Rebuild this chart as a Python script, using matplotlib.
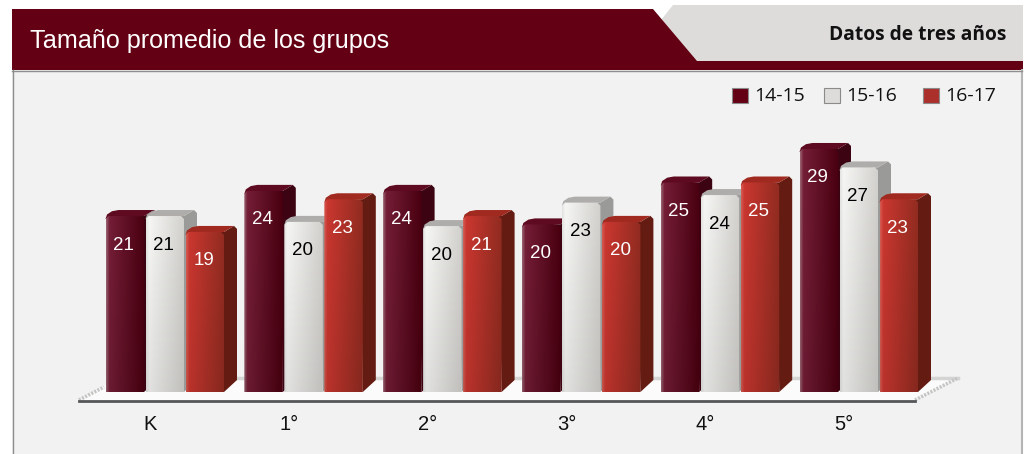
import numpy as np
import matplotlib
matplotlib.use('Agg')
import matplotlib.pyplot as plt
from matplotlib.colors import to_rgb
from matplotlib.patches import Polygon, Rectangle

# Values
grades = ['K', '1°', '2°', '3°', '4°', '5°']
years = ['14-15', '15-16', '16-17']
# printed labels
y1415 = [21, 24, 24, 20, 25, 29]
y1516 = [21, 20, 20, 23, 24, 27]
y1617 = [19, 23, 21, 20, 25, 23]
labels = [y1415, y1516, y1617]
# bar heights as measured, the labels are rounded
h1415 = [21.0, 24.0, 24.0, 20.0, 25.0, 29.0]
h1516 = [21.0, 20.3, 19.8, 22.6, 23.5, 26.8]
h1617 = [19.1, 23.0, 21.0, 20.3, 25.0, 23.0]
heights = [h1415, h1516, h1617]

# edge, front left, front right, top, side, label colour
styles = [
    ('#8f5a68', '#6e1c34', '#45000f', '#5e0a20', '#3c0412', 'white'),
    ('#d8d8d6', '#e8e8e6', '#c6c5c2', '#aeadab', '#9a9a98', 'black'),
    ('#c9554c', '#bf342d', '#89291f', '#a12a20', '#641c12', 'white'),
]
legend_colors = ['#640014', '#dddcda', '#ab302c']
legend_x = [732, 824, 923]

W, H = 1024, 454
PX_X = 138.8   # pixels per category
PX_Y = 8.38    # pixels per student
X0, Y0 = 150, 392
PITCH = 40 / PX_X
BAR_W = 38.5 / PX_X
BAR_LEFT = -44.5 / PX_X
DX = 13 / PX_X
TOP_DY = 6 / PX_Y
BASE_DY = 12 / PX_Y
RX = 3 / PX_X
RY = 3 / PX_Y

fig = plt.figure(figsize=(W / 100, H / 100), dpi=100, facecolor='white')

# Panel and header, in pixel coordinates
bg = fig.add_axes([0, 0, 1, 1])
bg.set_xlim(0, W)
bg.set_ylim(H, 0)
bg.axis('off')
bg.add_patch(Rectangle((12, 70), 1010, 384, fc='#f2f2f2', ec='none'))
bg.plot([12.5, 12.5], [70, H], color='#8e8e8e', lw=1)
bg.plot([1022, 1022], [70, H], color='#b5b5b5', lw=1.5)
bg.plot([12, 1022], [70.5, 70.5], color='#8e8e8e', lw=1)
bg.add_patch(Polygon([(673, 5), (1023, 5), (1023, 62), (697, 62), (661, 20)], fc='#dddcda', ec='none'))
bg.add_patch(Polygon([(12, 9), (653, 9), (697, 61), (1023, 61), (1023, 70), (12, 70)], fc='#640014', ec='none'))
bg.text(30, 41, 'Tamaño promedio de los grupos', color='white', fontsize=18.1,
        family='Liberation Sans', va='center', ha='left')
bg.text(1006, 35, 'Datos de tres años', color='#111111', fontsize=13.8, fontweight='bold',
        family='Open Sans', va='center', ha='right')

# Floor
bg.add_patch(Polygon([(79, 400), (915, 400), (958, 378), (118, 378)], fc='#fbfbfb', ec='none'))
bg.plot([118, 958], [378, 378], color='#d4d4d2', lw=2.5)
bg.plot([79, 104], [400, 387], color='#c4c4c2', lw=2.5, ls=(0, (0.6, 0.4)))
bg.plot([915, 958], [400, 378], color='#c4c4c2', lw=2.5, ls=(0, (0.6, 0.4)))
bg.plot([79, 915], [400.5, 400.5], color='#55585a', lw=2)

# Legend
for name, col, lx in zip(years, legend_colors, legend_x):
    bg.add_patch(Rectangle((lx, 88), 16, 15, fc=col, ec='#8a8a8a', lw=0.8))
    bg.text(lx + 22, 96, name, fontsize=14, family='Open Sans', color='#111111', va='center', ha='left')

# Chart axes share the figure area, scaled so values map onto the bars
ax = fig.add_axes([0, 0, 1, 1], facecolor='none')
ax.axis('off')
xlim = (-X0 / PX_X, (W - X0) / PX_X)
ylim = (-(H - Y0) / PX_Y, Y0 / PX_Y)

positions = np.arange(len(grades))
shade = np.linspace(1.06, 0.97, 64)[:, None, None]

for s, (vals, txts, st) in enumerate(zip(heights, labels, styles)):
    edge_c, left_c, right_c = [np.array(to_rgb(c)) for c in st[:3]]
    t = np.linspace(0, 1, 40)
    row = np.array([np.interp(t, [0, 0.08, 1], [edge_c[i], left_c[i], right_c[i]]) for i in range(3)]).T
    for p, v, txt in zip(positions, vals, txts):
        x0 = p + BAR_LEFT + s * PITCH
        x1 = x0 + BAR_W
        # side face
        ax.add_patch(Polygon([(x1 - RX, v - RY), (x1 - RX, v), (x1, v), (x1 + DX - RX, v + TOP_DY),
                              (x1 + DX, v + TOP_DY - RY), (x1 + DX, BASE_DY), (x1, 0)],
                             fc=st[4], ec='none', zorder=2 + s))
        # top face, rounded at the back left
        ax.add_patch(Polygon([(x0, v - RY), (x0 + RX / 2, v + TOP_DY * 0.25), (x0 + DX * 0.5, v + TOP_DY * 0.8),
                              (x0 + DX, v + TOP_DY), (x1 + DX - RX, v + TOP_DY), (x1, v)],
                             fc=st[3], ec='none', zorder=2 + s))
        # front face with a horizontal gradient
        img = np.clip(row[None, :, :] * shade, 0, 1)
        im = ax.imshow(img, extent=(x0, x1, 0, v), origin='upper',
                       aspect='auto', zorder=2 + s, interpolation='bilinear')
        clip = Polygon([(x0, 0), (x0, v - RY), (x0 + RX, v), (x1 - RX, v), (x1, v - RY), (x1, 0)],
                       transform=ax.transData)
        im.set_clip_path(clip)
        ax.annotate(str(txt), (x0 + BAR_W / 2, v), xytext=(-1 * 0.72, -29 * 0.72), textcoords='offset points',
                    ha='center', va='center', color=st[5], fontsize=13.5, family='Liberation Sans', zorder=10)

for p, g in zip(positions, grades):
    ax.annotate(g, (p, 0), xytext=(0, -32 * 0.72), textcoords='offset points', ha='center', va='center',
                fontsize=14.5, family='Liberation Sans', color='#111111')

ax.set_xlim(*xlim)
ax.set_ylim(*ylim)

fig.savefig('out.png', dpi=100, facecolor='white')
